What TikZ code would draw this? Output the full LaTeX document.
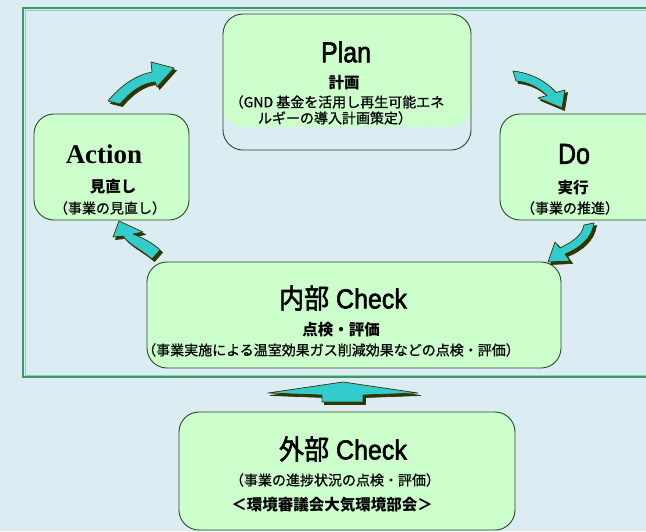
\documentclass[tikz,border=0pt]{standalone}
\usepackage{graphicx}
\usepackage{fontspec}
\setmainfont{Liberation Sans}
\newfontfamily\heavy[FakeBold=2.2]{Liberation Sans}
\newfontfamily\jp{Noto Sans CJK JP}
\newfontfamily\jpheavy[FakeBold=2.2]{Noto Sans CJK JP}
\newfontfamily\jpsm[FakeBold=0.8]{Noto Sans CJK JP}
\newfontfamily\serifA{Liberation Serif}
\definecolor{bgc}{HTML}{DCECF3}
\definecolor{framec}{HTML}{3C9A6C}
\definecolor{framel}{HTML}{8FD3AE}
\definecolor{boxf}{HTML}{CCFFCC}
\definecolor{boxd}{HTML}{244A24}
\definecolor{arrc}{HTML}{33CCCC}
\definecolor{arrs}{HTML}{333300}
\newcommand\blockarrow[1]{\path[shd,shift={(2.5,2.5)}] #1; \path[blk] #1;}
\begin{document}
\begin{tikzpicture}[x=1pt,y=-1pt,
 box/.style={draw=boxd, line width=0.9pt, fill=boxf, rounded corners=20pt, inner sep=0pt},
 blk/.style={fill=arrc, draw=arrs, line width=0.7pt, line join=round},
 shd/.style={fill=arrs, draw=arrs, line width=0.7pt, line join=round},
 big/.style={inner sep=0pt, font=\heavy\fontsize{25}{28}\selectfont},
 mid/.style={inner sep=0pt, font=\jp\bfseries\fontsize{15.5}{18}\selectfont},
 sml/.style={inner sep=0pt, font=\jpsm\fontsize{14}{16}\selectfont},
]
\useasboundingbox (0,0) rectangle (646,531);
\clip (0,0) rectangle (646,531);
\fill[bgc] (0,0) rectangle (646,531);
% frame
\draw[framel, line width=1pt] (25.5,10.5) rectangle (700,375.5);
\draw[framec, line width=2pt] (23,8) rectangle (700,377);

% boxes
\fill[boxf, rounded corners=20pt] (223,14) rectangle (471,127);
\node[box, fill=none, minimum width=248pt, minimum height=136pt] (plan) at (347,82) {};
\node[box, minimum width=155pt, minimum height=106pt] (action) at (111.5,167) {};
\node[box, minimum width=180pt, minimum height=106pt] (do) at (590,167) {};
\node[box, minimum width=414pt, minimum height=106pt] (inner) at (354,315) {};
\node[box, minimum width=336pt, minimum height=118pt] (outer) at (347,471) {};

% texts
\node[big] (planT) at (346,52) {\scalebox{1}[1.15]{Plan}};
\node[mid] (planJ) at (344,83) {計画};
\node[sml] (planL1) at (337,102) {（GND 基金を活用し再生可能エネ};
\node[sml] (planL2) at (335,118) {ルギーの導入計画策定）};

\node[inner sep=0pt, font=\serifA\bfseries\fontsize{27}{30}\selectfont] (actT) at (104,154) {Action};
\node[mid] (actJ) at (113,187) {見直し};
\node[sml] (actL) at (110,208) {（事業の見直し）};

\node[big] (doT) at (574,154) {\scalebox{1}[1.15]{Do}};
\node[mid] (doJ) at (573,188) {実行};
\node[sml] (doL) at (570,208) {（事業の推進）};

\node[big] (inT) at (343,298) {\scalebox{1}[1.1]{{\jpheavy 内部} Check}};
\node[mid] (inJ) at (341,330) {点検・評価};
\node[sml] (inL) at (331,350) {（事業実施による温室効果ガス削減効果などの点検・評価）};

\node[big] (outT) at (343,449) {\scalebox{1}[1.1]{{\jpheavy 外部} Check}};
\node[sml] (outL) at (335,480) {（事業の進捗状況の点検・評価）};
\node[mid] (outJ) at (332,505) {＜環境審議会大気環境部会＞};

% curved arrows
\blockarrow{(108,101) .. controls (122,84) and (137,75) .. (152,72) -- (151,62) -- (174,68) -- (157,87) -- (155,82) .. controls (142,83) and (130,92) .. (120,104) -- cycle}
\blockarrow{(513,71) .. controls (530,73) and (545,80) .. (556,92.5) -- (565,90) -- (562,108) -- (538,98) -- (547,95.5) .. controls (538,87) and (528,82) .. (516,81) -- cycle}
\blockarrow{(584,225) -- (594,223) .. controls (592,238) and (580,248) .. (565,254) -- (570,261) -- (548,262) -- (555,242) -- (560,248) .. controls (572,242) and (582,236) .. (584,225) -- cycle}
\blockarrow{(119,221) -- (143,232) -- (133,234) .. controls (143,238) and (153,243) .. (160,250) -- (152,259) .. controls (142,250) and (128,244) .. (123,236) -- (113,237) -- cycle}
% up arrow
\blockarrow{(343,382) -- (418,393) -- (363,395) -- (363,402) -- (322,402) -- (322,395) -- (268,393) -- cycle}
\end{tikzpicture}
\end{document}
